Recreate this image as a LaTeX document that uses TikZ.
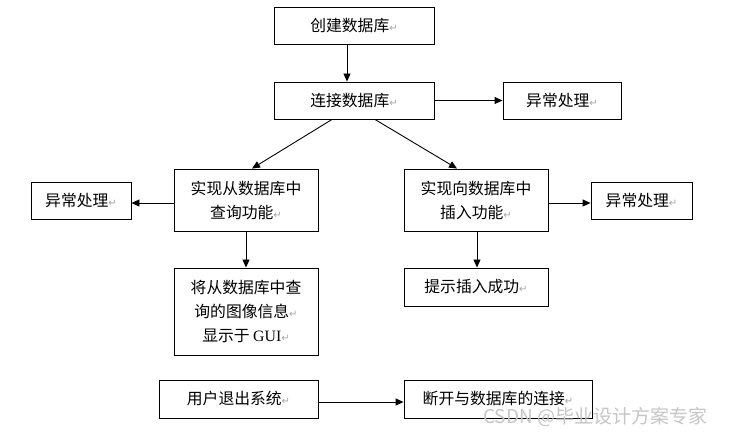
\documentclass[tikz,border=0pt]{standalone}
\usepackage{fontspec}
\usetikzlibrary{arrows.meta}
\newfontfamily\cjk{Noto Sans CJK SC}
\newfontfamily\symf{DejaVu Sans}
\newfontfamily\serifen{Liberation Serif}
\newcommand\pmk{{\symf\fontsize{10}{10}\selectfont\textcolor{gray!70}{↵}}}
\begin{document}
\begin{tikzpicture}[x=1pt,y=-1pt,
  box/.style={draw, line width=0.9pt, align=center, inner sep=0pt,
    font=\cjk\fontsize{15.8}{24}\selectfont},
  arr/.style={-{Triangle[length=8pt,width=7pt]}, line width=0.9pt},
  wm/.style={text=gray!45, font=\cjk\fontsize{19}{19}\selectfont, inner sep=0pt}]
\fill[white] (0,0) rectangle (733,435);
\useasboundingbox (0,0) rectangle (733,435);

\node[box, minimum width=160pt, minimum height=37pt] (n1) at (354,25.5) {创建数据库\pmk};
\node[box, minimum width=160pt, minimum height=37pt] (n2) at (354,100.5) {连接数据库\pmk};
\node[box, minimum width=118pt, minimum height=37pt] (e1) at (562,100.5) {异常处理\pmk};
\node[box, minimum width=144pt, minimum height=62pt] (q) at (246,200) {实现从数据库中\\查询功能\pmk};
\node[box, minimum width=100pt, minimum height=37pt] (e2) at (81,200.5) {异常处理\pmk};
\node[box, minimum width=144pt, minimum height=87pt] (d) at (246,311.5) {将从数据库中查\\询的图像信息\pmk\\显示于 {\serifen GUI}\pmk};
\node[box, minimum width=144pt, minimum height=62pt] (ins) at (476,200) {实现向数据库中\\插入功能\pmk};
\node[box, minimum width=101pt, minimum height=37pt] (e3) at (641.5,200.5) {异常处理\pmk};
\node[box, minimum width=144pt, minimum height=38pt] (s) at (476,287) {提示插入成功\pmk};
\node[box, minimum width=159pt, minimum height=38pt] (u) at (238.5,399) {用户退出系统\pmk};
\node[box, minimum width=188pt, minimum height=38pt] (k) at (498,399) {断开与数据库的连接\pmk};

\draw[arr] ([xshift=-7pt]n1.south) -- ([xshift=-7pt]n2.north);
\draw[arr] (n2.east) -- (e1.west);
\draw[arr] ([xshift=-22pt]n2.south) -- ([xshift=6pt]q.north);
\draw[arr] ([xshift=21pt]n2.south) -- ([xshift=-19pt]ins.north);
\draw[arr] ([yshift=-3pt]q.west) -- ([yshift=-2.5pt]e2.east);
\draw[arr] (q.south) -- (d.north);
\draw[arr] ([yshift=-3pt]ins.east) -- ([yshift=-2.5pt]e3.west);
\draw[arr] ([xshift=1pt]ins.south) -- ([xshift=1pt]s.north);
\draw[arr] ([yshift=-3pt]u.east) -- ([yshift=-3pt]k.west);

\node[wm, anchor=west] (wmk) at (483,417) {CSDN @毕业设计方案专家};
\end{tikzpicture}
\end{document}
